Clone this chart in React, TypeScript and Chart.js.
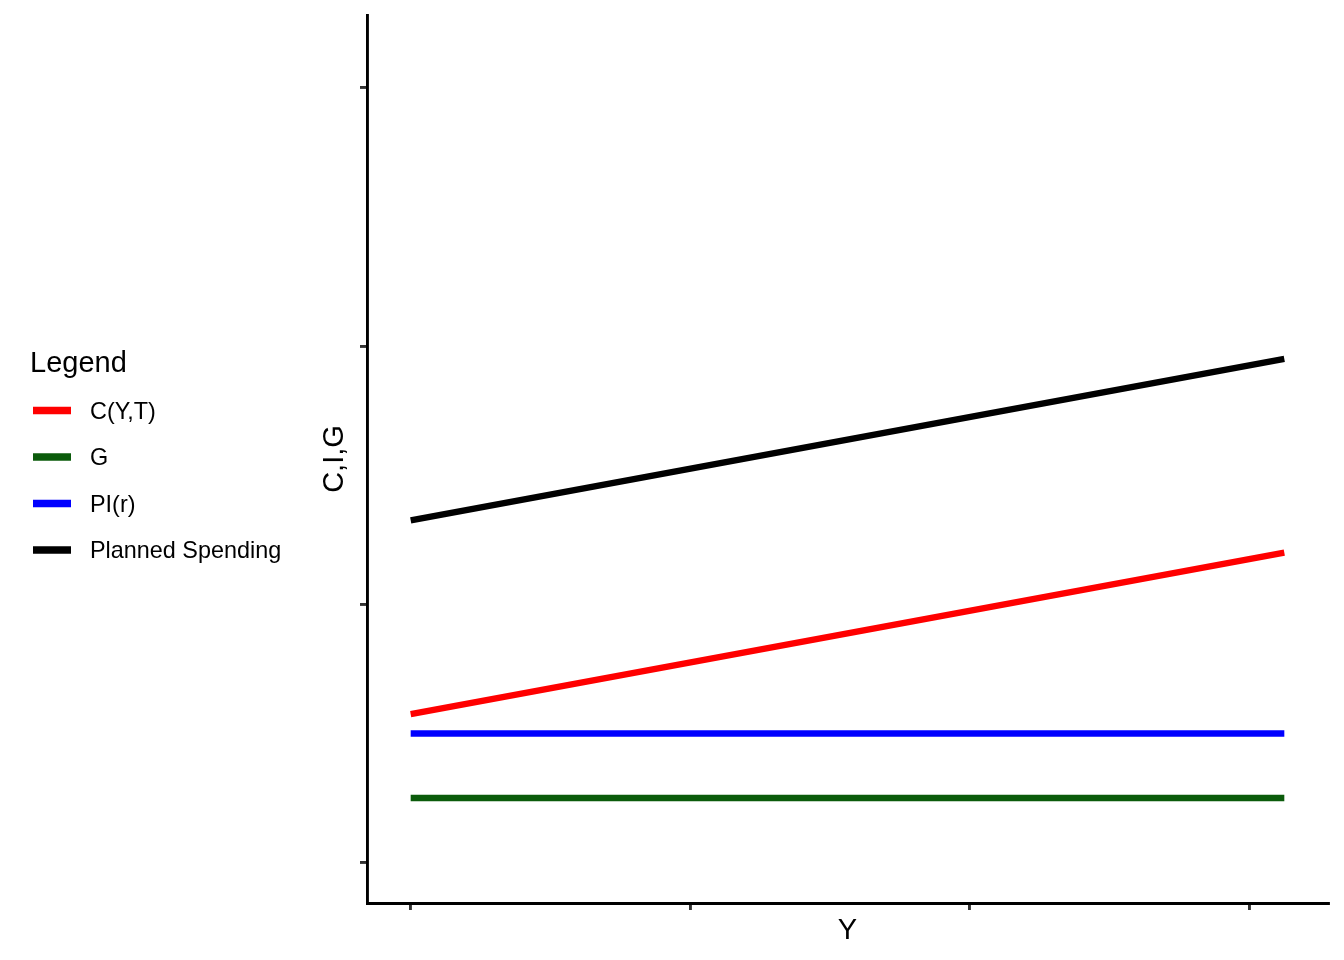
import React, { useEffect, useRef } from 'react';
import { Chart, registerables } from 'chart.js';

Chart.register(...registerables);

// ---- data ----
const seriesLabels = ['C(Y,T)', 'G', 'PI(r)', 'Planned Spending'];
const seriesColors = ['#FF0000', '#0B5B0B', '#0000FF', '#000000'];
const incomeY = [0, 312.5];
const consumption = [57.5, 120];
const government = [25, 25];
const investment = [50, 50];
const plannedSpending = [132.5, 195];
const xTickValues = [0, 100, 200, 300];
const yTickValues = [0, 100, 200, 300];
const axisMin = -15.625;
const axisMax = 328.125;
const legendTitle = 'Legend';
const xTitle = 'Y';
const yTitle = 'C,I,G';

const FONT = '"Liberation Sans", Arial, Helvetica, sans-serif';

const seriesValues = [consumption, government, investment, plannedSpending];

const sideLegend = {
  id: 'sideLegend',
  afterDraw(chart: any) {
    const ctx = chart.ctx;
    ctx.save();
    ctx.fillStyle = '#000';
    ctx.textAlign = 'left';
    ctx.textBaseline = 'middle';
    ctx.font = `29px ${FONT}`;
    ctx.fillText(legendTitle, 30, 363.5);
    chart.data.datasets.forEach((ds: any, i: number) => {
      const y = 410.5 + i * 46.5;
      ctx.strokeStyle = ds.borderColor;
      ctx.lineWidth = 7.5;
      ctx.lineCap = 'butt';
      ctx.beginPath();
      ctx.moveTo(33, y);
      ctx.lineTo(71, y);
      ctx.stroke();
      ctx.fillStyle = '#000';
      ctx.font = `23.4px ${FONT}`;
      ctx.fillText(ds.label, 90, y + 1.8);
    });
    ctx.restore();
  },
};

export default function App() {
  const canvasRef = useRef<HTMLCanvasElement | null>(null);

  useEffect(() => {
    if (!canvasRef.current) return;
    Chart.defaults.font.family = FONT;
    const datasets = seriesLabels.map((label, i) => ({
      label,
      data: incomeY.map((x, j) => ({ x, y: seriesValues[i][j] })),
      borderColor: seriesColors[i],
      backgroundColor: seriesColors[i],
      borderWidth: 6.4,
      pointRadius: 0,
      pointHoverRadius: 0,
      tension: 0,
      fill: false,
      borderCapStyle: 'butt' as const,
    }));

    const chart = new Chart(canvasRef.current, {
      type: 'line',
      data: { datasets },
      plugins: [sideLegend],
      options: {
        responsive: false,
        animation: false,
        events: [],
        layout: { padding: { left: 0, right: 16, top: 15, bottom: 0 } },
        plugins: {
          legend: { display: false },
          tooltip: { enabled: false },
          title: { display: false },
        },
        scales: {
          x: {
            type: 'linear',
            position: 'bottom',
            min: axisMin,
            max: axisMax,
            afterBuildTicks: (scale: any) => {
              scale.ticks = xTickValues.map((v) => ({ value: v }));
            },
            afterFit: (scale: any) => {
              scale.height = 57;
            },
            ticks: { display: false },
            grid: {
              drawOnChartArea: false,
              drawTicks: true,
              tickLength: 7,
              color: '#333333',
              lineWidth: 2.9,
            },
            border: { display: true, color: '#000000', width: 2.9 },
            title: {
              display: true,
              text: xTitle,
              color: '#000000',
              font: { size: 29, family: FONT },
              padding: { top: 0, bottom: 11.5 },
            },
          },
          y: {
            type: 'linear',
            position: 'left',
            min: axisMin,
            max: axisMax,
            afterBuildTicks: (scale: any) => {
              scale.ticks = yTickValues.map((v) => ({ value: v }));
            },
            afterFit: (scale: any) => {
              scale.width = 367;
            },
            ticks: { display: false },
            grid: {
              drawOnChartArea: false,
              drawTicks: true,
              tickLength: 7,
              color: '#333333',
              lineWidth: 2.9,
            },
            border: { display: true, color: '#000000', width: 2.9 },
            title: {
              display: true,
              text: yTitle,
              color: '#000000',
              font: { size: 29, family: FONT },
              padding: { top: 318, bottom: 0 },
            },
          },
        },
      },
    });
    return () => chart.destroy();
  }, []);

  return (
    <div
      style={{
        position: 'fixed',
        left: 0,
        top: 0,
        width: 1344,
        height: 960,
        background: '#ffffff',
      }}
    >
      <canvas ref={canvasRef} width={1344} height={960} style={{ display: 'block' }} />
    </div>
  );
}
